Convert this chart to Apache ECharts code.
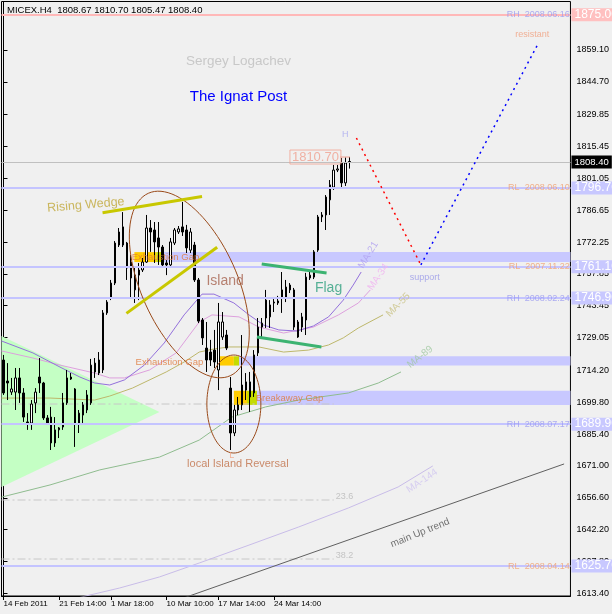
<!DOCTYPE html>
<html><head><meta charset="utf-8">
<script src="https://cdn.jsdelivr.net/npm/echarts@6/dist/echarts.min.js"></script>
<style>html,body{margin:0;padding:0;background:#f0f0f0}#c{width:612px;height:614px}</style>
</head><body><div id="c"></div>
<script>
// ---------- DATA ----------
const barCount = 143;
const dateLabels = ['14 Feb 2011','21 Feb 14:00','1 Mar 18:00','10 Mar 10:00','17 Mar 14:00','24 Mar 14:00'];
const dateLabelBars = [0,14,27,41,54,68];
const priceTicks = [1613.40,1627.80,1642.20,1656.60,1671.00,1685.40,1699.80,1714.20,1729.05,1743.45,1757.85,1772.25,1786.65,1801.05,1815.45,1829.85,1844.70,1859.10];

const opens = [1718.9,1709.4,1704.4,1704.4,1710.8,1704.0,1690.9,1690.4,1699.5,1711.2,
1708.5,1692.7,1693.1,1687.3,1687.3,1688.6,1699.5,1711.2,1705.8,1690.4,
1694.0,1696.3,1699.5,1717.5,1713.0,1714.4,1740.2,1747.4,1753.7,1770.9,
1779.1,1771.8,1763.2,1750.6,1757.3,1759.6,1763.2,1778.6,1777.7,1774.1,
1770.0,1762.8,1761.9,1771.8,1776.8,1779.1,1777.7,1768.6,1770.9,1755.1,
1737.0,1724.3,1722.5,1723.4,1714.4,1729.3,1730.2,1706.2,1685.9,1696.3,
1698.6,1705.3,1709.0,1704.0,1722.1,1733.8,1746.0,1738.4,1744.7,1744.7,
1750.6,1747.0,1752.8,1750.6,1736.1,1733.8,1737.0,1756.0,1756.4,1768.6,
1783.6,1784.5,1791.3,1797.1,1804.8,1808.0,1799.0,1808.67];
const closes = [1704.0,1708.5,1705.8,1710.8,1704.0,1693.1,1690.4,1699.0,1704.4,1708.5,
1692.7,1690.4,1681.4,1681.4,1688.2,1699.5,1710.8,1710.3,1690.4,1694.9,
1698.6,1703.1,1716.6,1713.5,1718.9,1740.2,1745.1,1753.7,1771.8,1776.8,
1770.9,1760.5,1756.0,1757.3,1759.6,1763.2,1778.6,1776.8,1772.3,1770.0,
1761.9,1761.9,1772.3,1777.7,1778.2,1776.8,1769.6,1776.8,1755.1,1736.5,
1728.9,1718.9,1718.9,1718.0,1736.1,1736.1,1724.3,1685.9,1696.3,1698.6,
1707.6,1709.0,1702.2,1721.2,1733.8,1735.6,1737.9,1743.8,1745.1,1745.6,
1747.4,1751.9,1750.6,1733.8,1729.3,1738.4,1756.4,1757.3,1767.8,1783.6,
1784.5,1792.6,1798.1,1804.8,1805.3,1799.0,1808.0,1808.40];
const lows = [1703.1,1700.8,1703.1,1696.3,1699.5,1690.9,1687.3,1687.3,1694.9,1704.0,
1691.8,1690.2,1678.2,1679.6,1683.6,1687.3,1698.6,1709.9,1679.6,1685.9,
1690.4,1694.9,1698.6,1710.8,1712.1,1713.0,1739.3,1746.0,1752.8,1770.0,
1770.0,1755.1,1747.4,1744.7,1746.0,1758.7,1762.8,1767.8,1762.8,1761.9,
1761.0,1757.3,1761.0,1770.9,1775.9,1775.0,1767.3,1767.3,1754.2,1735.6,
1725.7,1713.5,1716.2,1715.3,1705.3,1728.0,1723.4,1678.2,1684.5,1694.0,
1696.3,1700.8,1695.4,1702.2,1720.7,1728.9,1733.4,1733.4,1740.6,1743.8,
1740.2,1745.1,1749.2,1732.5,1728.9,1731.6,1730.2,1755.1,1755.5,1767.8,
1781.3,1777.7,1784.5,1795.8,1803.9,1796.7,1797.6,1805.47];
const highs = [1721.2,1717.5,1710.8,1715.3,1715.3,1706.2,1694.9,1700.8,1706.2,1719.8,
1709.0,1694.0,1697.7,1693.1,1688.6,1704.0,1714.4,1713.0,1706.2,1696.3,
1699.9,1705.3,1719.4,1719.8,1722.5,1741.5,1746.0,1755.1,1772.7,1778.6,
1785.8,1772.3,1766.4,1760.5,1762.8,1765.0,1784.5,1782.2,1781.3,1781.3,
1770.9,1764.1,1774.1,1778.6,1779.5,1790.4,1780.0,1778.6,1772.3,1756.0,
1737.9,1736.1,1728.0,1732.5,1744.7,1740.6,1732.5,1711.2,1698.6,1702.2,
1730.2,1713.0,1713.5,1723.4,1737.9,1737.9,1750.6,1746.0,1747.4,1747.9,
1758.7,1755.1,1753.7,1751.5,1737.0,1740.2,1758.3,1758.7,1768.6,1784.5,
1785.8,1793.5,1800.3,1807.1,1807.1,1810.3,1810.5,1810.70];

// moving averages, [bar, price]
const ma21 = [[-0.5,1727.5],[7.4,1722.1],[14.2,1715.7],[19.2,1711.2],[22.9,1708.5],[26.7,1707.6],[30.4,1709.9],[35.4,1716.6],[40.4,1726.6],[45.4,1739.3],[49.9,1748.7],[52.9,1748.7],[57.9,1744.7],[61.7,1739.3],[65.4,1734.7],[69.2,1732.5],[73.7,1732.0],[77.9,1734.3],[81.7,1738.4],[85.4,1746.0],[87.9,1752.8],[89.9,1758.7]];
const ma34 = [[-0.5,1723.0],[7.4,1719.8],[14.2,1716.6],[22.9,1713.0],[26.7,1710.8],[30.4,1710.8],[36.7,1714.4],[43.4,1722.1],[49.2,1736.1],[52.4,1739.3],[59.2,1738.4],[64.2,1733.8],[70.4,1731.1],[77.9,1733.8],[84.2,1739.3],[89.2,1744.7],[92.2,1750.6]];
const ma55 = [[-0.5,1701.7],[11.7,1701.7],[22.9,1700.8],[26.7,1702.6],[32.4,1706.2],[40.9,1713.5],[45.4,1718.0],[49.2,1722.5],[52.9,1723.9],[56.7,1724.8],[64.2,1724.8],[70.4,1722.5],[76.7,1723.4],[81.7,1725.7],[85.4,1728.9],[89.2,1733.4],[95.4,1739.3]];
const ma89 = [[-0.5,1656.9],[11.7,1662.4],[24.2,1669.2],[39.2,1675.0],[49.2,1682.7],[57.4,1693.1],[65.9,1697.7],[74.2,1700.8],[86.7,1704.0],[94.2,1708.5],[99.9,1713.5]];
const ma144 = [[17.9,1611.0],[29.2,1615.8],[39.2,1620.8],[49.2,1627.1],[61.7,1635.2],[74.2,1643.4],[86.7,1652.0],[99.2,1661.5],[107.9,1671.0]];

// horizontal levels
const levelPrices = [1875.0,1796.7,1761.1,1746.9,1689.9,1625.7];
const levelTags = ['RH  2008.06.16','RL  2008.06.10','RL  2007.11.22','RH  2008.02.24','RH  2008.07.17','RL  2008.04.14'];
const lastPrice = 1808.40;
const titleText = 'MICEX.H4  1808.67 1810.70 1805.47 1808.40';

// gap zones: [startBar, endBar, topPrice, bottomPrice]
const gapBands = [[39.9,142.5,1767.7,1763.2],[59.2,142.5,1720.6,1716.4],[63.7,142.5,1705.0,1698.6]];
const gapMarks = [[32.9,38.4,1767.7,1763.2],[54.2,57.9,1720.6,1716.4],[57.9,61.2,1705.0,1698.6]];
const gapEdges = [[38.4,39.9,1767.7,1763.2],[57.9,59.2,1720.6,1716.4],[61.2,63.7,1705.0,1698.6]];

// pattern lines
const triangle = [[-0.5,1729.8],[39.2,1695.4],[-0.5,1661.5]];
const wedgeTop = [[24.9,1785.5],[49.9,1792.8]];
const wedgeBottom = [[30.9,1740.0],[53.7,1769.9]];
const flagTop = [[64.9,1762.3],[81.2,1758.3]];
const flagBottom = [[63.7,1729.3],[79.9,1724.8]];
const upTrend = [[36.0,1605.4],[140.9,1671.9]];
const projDown = [[88.7,1819.3],[104.9,1761.9]];
const projUp = [[104.9,1761.9],[134.2,1861.4]];
const highTick = [[84.6,1810.7],[87.1,1810.7]];
const fibPrices = [1699.0,1655.6,1628.9];
const ellipseCenters = [[46.7,1753.05],[57.9,1699.0]];

// text notes [bar, price]
const noteTexts = ['Rising Wedge','Island','Exhaustion Gap','Exhaustion Gap','Breakaway Gap','local Island Reversal','Flag','H','L','support','resistant','main Up trend','MA-21','MA-34','MA-55','MA-89','MA-144','23.6','38.2'];
const notePos = [[20.7,1789.0],[55.7,1754.6],[40.7,1765.5],[41.7,1718.0],[71.9,1701.7],[58.9,1671.9],[81.7,1751.5],[85.9,1821.1],[57.4,1675.5],[105.9,1756.0],[132.9,1866.3],[104.7,1640.7],[91.7,1766.4],[94.2,1756.4],[99.2,1743.8],[104.7,1720.3],[105.2,1664.2],[85.7,1657.0],[85.7,1630.3]];
const highLabelPos = [78.4,1810.70];

// ---------- STYLE / RENDER ----------
const FONT = 'Liberation Sans';
const noteStyle = {
  'Rising Wedge': {color:'#c0a838', fontSize:12.5, rotate:5, textShadowColor:'#8a8a8a', textShadowOffsetX:1, textShadowOffsetY:1, textShadowBlur:0},
  'Island': {color:'#a86450', fontSize:14},
  'Exhaustion Gap': {color:'#e07838', fontSize:9.5},
  'Breakaway Gap': {color:'#e07838', fontSize:9.5},
  'local Island Reversal': {color:'#c07048', fontSize:11},
  'Flag': {color:'#30a080', fontSize:14, textShadowColor:'#e0d000', textShadowOffsetX:1, textShadowOffsetY:1, textShadowBlur:0},
  'H': {color:'#a8a8f0', fontSize:9},
  'L': {color:'#f0a080', fontSize:9},
  'support': {color:'#9898e8', fontSize:9},
  'resistant': {color:'#f0a080', fontSize:9},
  'main Up trend': {color:'#505050', fontSize:10, rotate:22},
  'MA-21': {color:'#b0a0f0', fontSize:10, rotate:59},
  'MA-34': {color:'#f0b0f0', fontSize:10, rotate:56},
  'MA-55': {color:'#c8c080', fontSize:10, rotate:45},
  'MA-89': {color:'#a0c8a0', fontSize:10, rotate:38},
  'MA-144': {color:'#d0c4f0', fontSize:10, rotate:34},
  '23.6': {color:'#b8b8b8', fontSize:9},
  '38.2': {color:'#b8b8b8', fontSize:9}
};
const ellipseShapes = [{a:100, b:48, deg:65.8}, {a:27, b:49, deg:0}];

const categories = Array.from({length: barCount}, (_, i) => String(i));
const labelOf = i => { const k = dateLabelBars.indexOf(i); return k >= 0 ? dateLabels[k] : ''; };

function seg(points, color, width, type, z) {
  return {type:'line', xAxisIndex:1, yAxisIndex:0, data:points, symbol:'none', silent:true, z:z, clip:true,
    lineStyle:{color:color, width:width, type:type}, animation:false};
}
function rectSeries(rows, color, z) {
  return {type:'custom', xAxisIndex:1, yAxisIndex:0, z:z, silent:true, data:rows,
    dimensions:['x0','x1','top','bot'], encode:{x:[0,1], y:[2,3]},
    renderItem:(params, api) => {
      const p0 = api.coord([api.value(0), api.value(2)]);
      const p1 = api.coord([api.value(1), api.value(3)]);
      return {type:'rect', shape:{x:p0[0], y:p0[1], width:p1[0]-p0[0], height:p1[1]-p0[1]}, style:{fill:color}};
    }};
}

const noteData = noteTexts.map((t, k) => {
  const s = noteStyle[t];
  return {value: notePos[k], label: Object.assign({show:true, position:'inside', formatter:t, fontFamily:FONT}, s)};
});
noteData.push({value: highLabelPos, label:{show:true, position:'inside', formatter:'1810.70', fontFamily:FONT, fontSize:13, color:'#f0a090', borderColor:'#f0a090', borderWidth:1, padding:[1,2,0,2]}});
levelTags.forEach((t, k) => {
  noteData.push({value:[142.3, levelPrices[k]], label:{show:true, position:'inside', align:'right', formatter:t, fontFamily:FONT, fontSize:9, color: t.startsWith('RH') ? '#9a9af0' : '#f0a070'}});
});

const levelLineData = levelPrices.map((p, k) => ({
  yAxis: p,
  lineStyle: {color: k === 0 ? '#ffb8b8' : '#c4c4ff', width:2, type:'solid'},
  label: {show:true, position:'end', distance:1, formatter: p.toFixed(2), color:'#ffffff', fontFamily:FONT, fontSize:12,
          backgroundColor: k === 0 ? '#ffc0c0' : '#c8c8ff', padding:[1,3,0,3]}
}));
levelLineData.push({
  yAxis: lastPrice,
  lineStyle: {color:'#c0c0c0', width:1, type:'solid'},
  label: {show:true, position:'end', distance:1, formatter: lastPrice.toFixed(2), color:'#ffffff', fontFamily:FONT, fontSize:9.5,
          backgroundColor:'#000000', padding:[2,3,1,3]}
});

const series = [
  {type:'custom', xAxisIndex:1, yAxisIndex:0, z:1, silent:true, data:[0],
   renderItem:(params, api) => ({type:'polygon', shape:{points: triangle.map(p => api.coord(p))}, style:{fill:'#c4ffc4'}})},
  rectSeries(gapBands, '#c8c8ff', 1),
  rectSeries(gapMarks, '#ffcc00', 1),
  rectSeries(gapEdges, '#c4dc00', 1),
  ...fibPrices.map(p => seg([[-0.5,p],[83,p]], '#c8c8c8', 1, [8,3,2,3], 1)),
  {type:'line', xAxisIndex:1, yAxisIndex:0, data:[], z:2, silent:true,
   markLine:{symbol:['none','none'], silent:true, animation:false, data: levelLineData}},
  seg(ma144, '#c8bce8', 1, 'solid', 3),
  seg(ma89, '#8fbc8f', 1, 'solid', 3),
  seg(ma55, '#bdb76b', 1, 'solid', 3),
  seg(ma34, '#dda0dd', 1, 'solid', 3),
  seg(ma21, '#9370db', 1, 'solid', 3),
  {type:'candlestick', xAxisIndex:0, yAxisIndex:0, z:4, barWidth:2, silent:true,
   data: opens.map((o, i) => [o, closes[i], lows[i], highs[i]]),
   itemStyle:{color:'#ffffff', color0:'#000000', borderColor:'#000000', borderColor0:'#000000', borderWidth:1}},
  seg(wedgeTop, '#c8c800', 3, 'solid', 5),
  seg(wedgeBottom, '#c8c800', 3, 'solid', 5),
  seg(flagTop, '#3cb371', 3, 'solid', 5),
  seg(flagBottom, '#3cb371', 3, 'solid', 5),
  seg(upTrend, '#606060', 1, 'solid', 5),
  seg(projDown, '#ff0000', 1.5, [2,4], 5),
  seg(projUp, '#0000ff', 1.5, [2,4], 5),
  seg(highTick, '#f0a090', 1, 'solid', 5),
  {type:'custom', xAxisIndex:1, yAxisIndex:0, z:5, silent:true, data: ellipseCenters,
   renderItem:(params, api) => {
     const c = api.coord([api.value(0), api.value(1)]);
     const g = ellipseShapes[params.dataIndex];
     const th = g.deg * Math.PI / 180, pts = [];
     for (let k = 0; k < 96; k++) {
       const t = k / 96 * Math.PI * 2;
       pts.push([c[0] + g.a*Math.cos(t)*Math.cos(th) - g.b*Math.sin(t)*Math.sin(th),
                 c[1] + g.a*Math.cos(t)*Math.sin(th) + g.b*Math.sin(t)*Math.cos(th)]);
     }
     return {type:'polygon', shape:{points:pts}, style:{fill:null, stroke:'#9a4a1a', lineWidth:1}};
   }},
  {type:'scatter', xAxisIndex:1, yAxisIndex:0, z:6, silent:true, symbolSize:0, data: noteData}
];

const chart = echarts.init(document.getElementById('c'), null, {renderer:'canvas', width:612, height:614});
chart.setOption({
  animation:false,
  backgroundColor:'#f0f0f0',
  textStyle:{fontFamily:FONT},
  grid:{left:1.5, right:38.5, top:1.5, bottom:18, show:true, borderColor:'#000', borderWidth:1, backgroundColor:'transparent'},
  xAxis:[
    {type:'category', data:categories, boundaryGap:true,
     axisLine:{show:true, lineStyle:{color:'#000'}},
     axisTick:{show:true, alignWithLabel:true, length:4, interval:(i) => dateLabelBars.includes(i), lineStyle:{color:'#000'}},
     axisLabel:{show:true, interval:(i) => dateLabelBars.includes(i), formatter:(v) => labelOf(Number(v)), align:'left', margin:4, fontSize:8, color:'#000', fontFamily:FONT},
     splitLine:{show:false}},
    {type:'value', min:-0.5, max:barCount-0.5, show:false}
  ],
  yAxis:[{type:'value', position:'right', min:1612.18, max:1881.03, scale:true,
    axisLine:{show:true, lineStyle:{color:'#000'}},
    axisTick:{show:true, length:4, customValues:priceTicks, lineStyle:{color:'#000'}},
    axisLabel:{show:true, customValues:priceTicks, formatter:v => Number(v).toFixed(2), color:'#000', fontSize:9, margin:6, fontFamily:FONT},
    splitLine:{show:false}}],
  graphic:[
    {type:'text', left:7, top:5, z:10, style:{text:titleText, fill:'#000', font:'9.5px "Liberation Sans"'}},
    {type:'text', x:238.5, y:61, z:10, style:{text:'Sergey Logachev', fill:'#c8c8c8', font:'13.5px "Liberation Sans"', textAlign:'center', textVerticalAlign:'middle'}},
    {type:'text', x:238.5, y:97, z:10, style:{text:'The Ignat Post', fill:'#0000ff', font:'15px "Liberation Sans"', textAlign:'center', textVerticalAlign:'middle'}}
  ],
  series: series
});
</script></body></html>
